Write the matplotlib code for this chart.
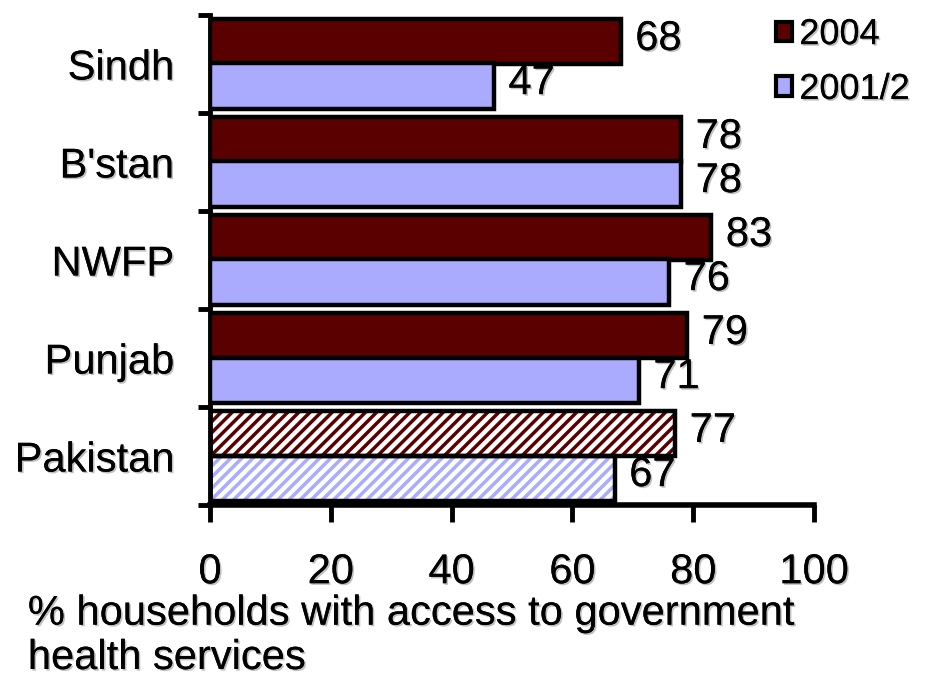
import numpy as np
import matplotlib
matplotlib.use("Agg")
import matplotlib.pyplot as plt
from matplotlib.patches import Patch
import matplotlib.patheffects as pe

plt.rcParams['font.family'] = ['Liberation Sans', 'DejaVu Sans']
plt.rcParams['hatch.linewidth'] = 2.5

regions = ["Sindh", "B'stan", "NWFP", "Punjab", "Pakistan"]
val_2004 = [68, 78, 83, 79, 77]
val_2001 = [47, 78, 76, 71, 67]
hatched = [False, False, False, False, True]
xticks = [0, 20, 40, 60, 80, 100]

c2004 = '#5a0000'
c2001 = '#aaaaff'
shadow = [pe.withSimplePatchShadow(offset=(1.2, -1.2), shadow_rgbFace='#999999', alpha=0.6), pe.Normal()]
fs = 30

fig = plt.figure(figsize=(9.28, 6.84), dpi=100)
ax = fig.add_axes([0.2263, 0.2617, 0.6509, 0.7164])

y = np.arange(len(regions))
h = 0.46
off = 0.225
lw = 3.2

for i in range(len(regions)):
    for val, col, dy in [(val_2004[i], c2004, -off), (val_2001[i], c2001, off)]:
        if hatched[i]:
            ax.barh(y[i] + dy, val, height=h, color='white', edgecolor=col,
                    hatch='///', linewidth=0, zorder=2)
            ax.barh(y[i] + dy, val, height=h, fill=False, edgecolor='black',
                    linewidth=lw, zorder=3)
        else:
            ax.barh(y[i] + dy, val, height=h, color=col, edgecolor='black',
                    linewidth=lw, zorder=3)
        ax.text(val + 2.4, y[i] + dy - 0.03, str(val), va='center', ha='left',
                fontsize=fs, path_effects=shadow, zorder=4)

ax.set_xlim(0, 100)
ax.set_ylim(len(regions) - 0.5, -0.5)
ax.set_xticks(xticks)
ax.set_xticklabels([str(t) for t in xticks], fontsize=fs)
for lab in ax.get_xticklabels():
    lab.set_path_effects(shadow)
ax.tick_params(axis='x', direction='out', length=12, width=3.5, pad=22)

ax.set_yticks(y)
ax.set_yticklabels(regions, fontsize=fs)
for lab in ax.get_yticklabels():
    lab.set_path_effects(shadow)
ax.tick_params(axis='y', which='major', length=0, pad=26)
ax.set_yticks(np.arange(len(regions) + 1) - 0.5, minor=True)
ax.tick_params(axis='y', which='minor', direction='out', length=9, width=3.5)

for s in ['top', 'right']:
    ax.spines[s].set_visible(False)
ax.spines['left'].set_linewidth(3.5)
ax.spines['bottom'].set_linewidth(4)

handles = [Patch(facecolor=c2004, edgecolor='black', linewidth=3, label='2004'),
           Patch(facecolor=c2001, edgecolor='black', linewidth=3, label='2001/2')]
leg = fig.legend(handles=handles, loc='upper left', bbox_to_anchor=(0.836, 0.975),
                 frameon=False, fontsize=26, handlelength=0.45, handleheight=0.45,
                 handletextpad=0.2, labelspacing=0.55, borderaxespad=0,
                 borderpad=0)
for t in leg.get_texts():
    t.set_path_effects(shadow)

fig.text(0.03, 1 - 669 / 684, "% households with access to government\nhealth services",
         fontsize=fs, ha='left', va='baseline', linespacing=1.14, path_effects=shadow)

fig.savefig('out.png', dpi=100)
